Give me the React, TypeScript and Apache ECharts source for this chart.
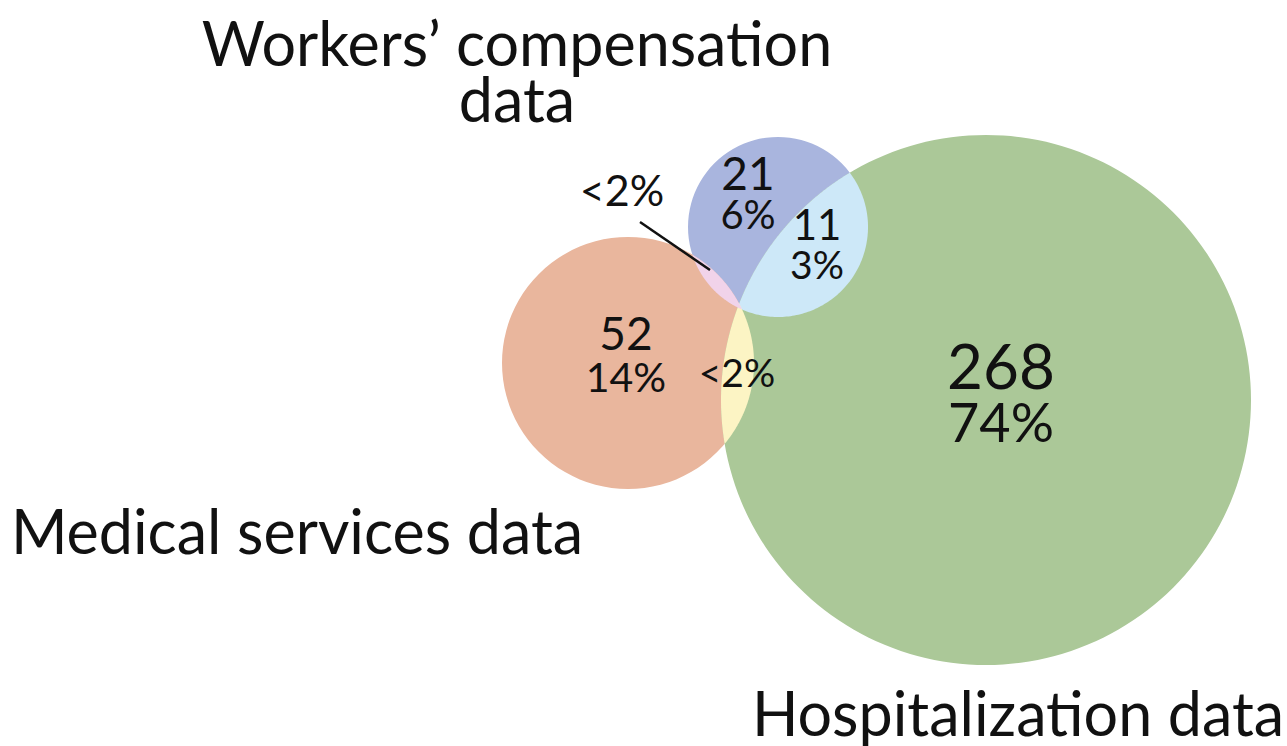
import React, { useEffect, useRef } from "react";
import * as echarts from "echarts";

// ---- data ----
const setNames = ["Workers’ compensation\ndata", "Medical services data", "Hospitalization data"];
const setColors = ["#a9b5de", "#e9b69d", "#abc898"];
// circle geometry in chart units (x, y, radius)
const setCenterX = [778, 628, 986];
const setCenterY = [227, 363, 400];
const setRadius = [90, 126, 265];

// pairwise overlaps: [setA, setB]
const overlapPairs = [[0, 2], [1, 2], [0, 1]];
const overlapColors = ["#cde8f8", "#fcf4c4", "#f1d3ea"];

const regionNames = ["Workers only", "Workers & Hospitalization", "Medical only", "Hospitalization only", "Medical & Hospitalization", "Workers & Medical"];
const regionCounts = ["21", "11", "52", "268", "", ""];
const regionShares = ["6%", "3%", "14%", "74%", "<2%", "<2%"];

// ---- layout ----
const FONT = "Lato, 'Open Sans', sans-serif";
const regionPos = [[748, 193], [817, 244], [626, 354], [1001, 393], [737, 372], [622, 189]];
const countSize = [46, 42, 46, 62, 0, 0];
const shareSize = [40, 39, 41, 54, 39, 43];
const countLine = [42, 40, 44, 56, 0, 0];
const shareLine = [42, 40, 44, 56, 40, 44];
const titlePos = [[517, 70], [297, 530], [1018, 712]];
const titleSize = [61, 61, 61];
const titleLine = [56, 64, 64];
const leader = [[640, 222], [710, 270]];

function lensPoints(c1: number[], r1: number, c2: number[], r2: number) {
  const dx = c2[0] - c1[0], dy = c2[1] - c1[1];
  const d = Math.sqrt(dx * dx + dy * dy);
  const tA = Math.atan2(dy, dx);
  const tB = Math.atan2(-dy, -dx);
  const aA = Math.acos(Math.max(-1, Math.min(1, (d * d + r1 * r1 - r2 * r2) / (2 * d * r1))));
  const aB = Math.acos(Math.max(-1, Math.min(1, (d * d + r2 * r2 - r1 * r1) / (2 * d * r2))));
  const pts: number[][] = [];
  const n = 120;
  for (let i = 0; i <= n; i++) {
    const t = tA - aA + (2 * aA * i) / n;
    pts.push([c1[0] + r1 * Math.cos(t), c1[1] + r1 * Math.sin(t)]);
  }
  for (let i = 0; i <= n; i++) {
    const t = tB - aB + (2 * aB * i) / n;
    pts.push([c2[0] + r2 * Math.cos(t), c2[1] + r2 * Math.sin(t)]);
  }
  return pts;
}

export default function App() {
  const ref = useRef<HTMLDivElement>(null);
  useEffect(() => {
    if (!ref.current) return;
    const chart = echarts.init(ref.current, null, { renderer: "svg" });

    const circleData = setNames.map((_, i) => [setCenterX[i], setCenterY[i], setRadius[i], i]);
    const lensData = overlapPairs.map((p, i) => [p[0], p[1], i]);

    // each text item: [x, y, kind, index]
    const textItems: any[] = [];
    regionNames.forEach((_, i) => textItems.push([regionPos[i][0], regionPos[i][1], 0, i]));
    setNames.forEach((_, i) => textItems.push([titlePos[i][0], titlePos[i][1], 1, i]));

    chart.setOption({
      animation: false,
      backgroundColor: "#ffffff",
      grid: { left: 0, right: 0, top: 0, bottom: 0 },
      xAxis: { type: "value", min: 0, max: 1287, show: false },
      yAxis: { type: "value", min: 0, max: 746, inverse: true, show: false },
      series: [
        {
          type: "custom",
          name: "sets",
          data: circleData,
          renderItem: (params: any, api: any) => {
            const c = api.coord([api.value(0), api.value(1)]);
            const r = api.size([api.value(2), 0])[0];
            return {
              type: "circle",
              shape: { cx: c[0], cy: c[1], r },
              style: { fill: setColors[api.value(3)] },
            };
          },
        },
        {
          type: "custom",
          name: "overlaps",
          data: lensData,
          renderItem: (params: any, api: any) => {
            const a = api.value(0), b = api.value(1);
            const c1 = api.coord([setCenterX[a], setCenterY[a]]);
            const c2 = api.coord([setCenterX[b], setCenterY[b]]);
            const r1 = api.size([setRadius[a], 0])[0];
            const r2 = api.size([setRadius[b], 0])[0];
            return {
              type: "polygon",
              shape: { points: lensPoints(c1, r1, c2, r2) },
              style: { fill: overlapColors[api.value(2)] },
            };
          },
        },
        {
          type: "lines",
          coordinateSystem: "cartesian2d",
          data: [{ coords: leader }],
          lineStyle: { color: "#111", width: 2.5, opacity: 1 },
          silent: true,
        },
        {
          type: "custom",
          name: "labels",
          data: textItems,
          renderItem: (params: any, api: any) => {
            const item = textItems[params.dataIndex];
            const p = api.coord([item[0], item[1]]);
            const kind = item[2], i = item[3];
            let style: any;
            if (kind === 0) {
              const text = regionCounts[i]
                ? `{c|${regionCounts[i]}}\n{s|${regionShares[i]}}`
                : `{s|${regionShares[i]}}`;
              style = {
                text,
                align: "center",
                verticalAlign: "middle",
                fill: "#111111",
                fontFamily: FONT,
                rich: {
                  c: { fontSize: countSize[i], lineHeight: countLine[i], fontFamily: FONT, fill: "#111111", align: "center" },
                  s: { fontSize: shareSize[i], lineHeight: shareLine[i], fontFamily: FONT, fill: "#111111", align: "center" },
                },
              };
            } else {
              style = {
                text: setNames[i],
                fontSize: titleSize[i],
                lineHeight: titleLine[i],
                fontFamily: FONT,
                fill: "#111111",
                align: "center",
                verticalAlign: "middle",
              };
            }
            return { type: "text", x: p[0], y: p[1], style };
          },
        },
      ],
    });
    return () => chart.dispose();
  }, []);
  return (
    <div
      ref={ref}
      style={{ position: "absolute", left: 0, top: 0, width: 1287, height: 746 }}
    />
  );
}
